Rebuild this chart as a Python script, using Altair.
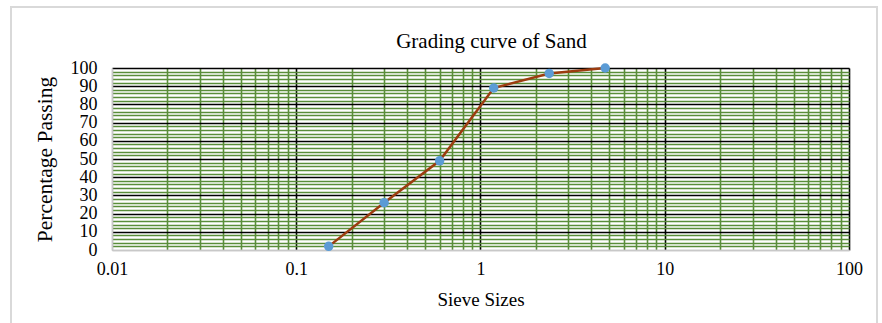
import altair as alt
import pandas as pd

sieve_sizes = [0.15, 0.3, 0.6, 1.18, 2.36, 4.75]
percent_passing = [2, 26, 49, 89, 97, 100]

x_ticks = [m * 10.0 ** e for e in range(-2, 2) for m in range(1, 10)] + [100]
x_labels = ["0.01", "0.1", "1", "10", "100"]
y_ticks = list(range(0, 101, 2))

df = pd.DataFrame({"size": sieve_sizes, "passing": percent_passing})

FONT = "Liberation Serif"
GREEN = "#5A8E3A"

x_enc = alt.X(
    "size:Q",
    scale=alt.Scale(type="log", domain=[0.01, 100], nice=False),
    axis=alt.Axis(
        title="Sieve Sizes",
        values=x_ticks,
        tickCount=200,
        format="~g",
        labelExpr="indexof(" + str(x_labels) + ", datum.label) >= 0 ? datum.label : ''",
        ticks=False,
        grid=True,
        gridColor={"condition": [
            {"test": "datum.value < 0.011", "value": "#C8C8C8"},
            {"test": "abs(log(datum.value)/LN10 - round(log(datum.value)/LN10)) < 0.001", "value": "#000000"},
        ], "value": GREEN},
        gridWidth=1.6,
        gridOpacity=1,
        domainColor="#C8C8C8",
        domainWidth=1.5,
        labelFont=FONT,
        labelFontSize=18,
        labelColor="#000000",
        labelPadding=10,
        labelOverlap=False,
        labelFlush=False,
        titleFont=FONT,
        titleFontSize=19,
        titleFontWeight="normal",
        titleColor="#000000",
        titlePadding=12,
    ),
)

y_enc = alt.Y(
    "passing:Q",
    scale=alt.Scale(domain=[0, 100], nice=False),
    axis=alt.Axis(
        title="Percentage Passing",
        values=y_ticks,
        tickCount=200,
        format="d",
        labelExpr="datum.value % 10 == 0 ? datum.label : ''",
        ticks=False,
        grid=True,
        gridColor={"condition": [
            {"test": "datum.value < 1", "value": "#C8C8C8"},
            {"test": "datum.value % 10 == 0", "value": "#000000"},
        ], "value": GREEN},
        gridWidth=1.5,
        gridOpacity=1,
        domainColor="#C8C8C8",
        domainWidth=1.5,
        labelFont=FONT,
        labelFontSize=18,
        labelColor="#000000",
        labelPadding=15,
        labelOverlap=False,
        labelFlush=False,
        labelBaseline="middle",
        titleFont=FONT,
        titleFontSize=21.5,
        titleFontWeight="normal",
        titleColor="#000000",
        titlePadding=14,
    ),
)

frame = alt.Chart(df).mark_rect(fill=None, stroke="#D9D9D9", strokeWidth=1.5).encode(
    x=alt.value(-101), x2=alt.value(765), y=alt.value(-61), y2=alt.value(280)
)
line = alt.Chart(df).mark_line(color="#9C3C10", strokeWidth=2.5).encode(x=x_enc, y=y_enc)
points = alt.Chart(df).mark_circle(color="#5B9BD5", opacity=1, size=90).encode(x="size:Q", y="passing:Q")

chart = (
    alt.layer(line, points, frame)
    .properties(
        width=737,
        height=182,
        title=alt.TitleParams(
            "Grading curve of Sand",
            font=FONT,
            fontSize=21,
            fontWeight="normal",
            color="#000000",
            anchor="middle",
            frame="group",
            offset=7,
            dy=53,
            dx=11,
        ),
        autosize=alt.AutoSizeParams(type="none"),
        padding={"left": 112, "top": 68, "right": 33, "bottom": 73},
    )
    .configure_view(stroke=None)
    .configure(background="white")
)

chart.save("out.html", embed_options={"renderer": "svg", "actions": False})
